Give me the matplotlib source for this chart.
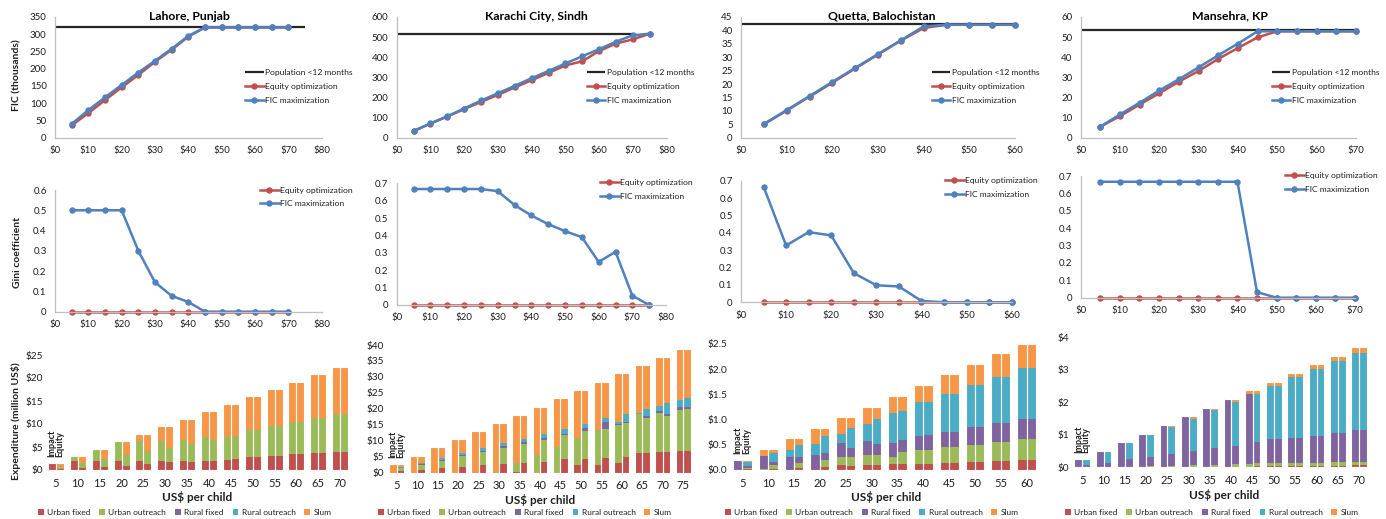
import numpy as np
import matplotlib
matplotlib.use('Agg')
import matplotlib.pyplot as plt
from matplotlib.patches import Patch

plt.rcParams['font.family'] = ['Lato', 'DejaVu Sans']

# ---------------- data ----------------
TITLES = ['Lahore, Punjab', 'Karachi City, Sindh', 'Quetta, Balochistan', 'Mansehra, KP']

COST_LAH = [5, 10, 15, 20, 25, 30, 35, 40, 45, 50, 55, 60, 65, 70]
COST_KAR = [5, 10, 15, 20, 25, 30, 35, 40, 45, 50, 55, 60, 65, 70, 75]
COST_QUE = [5, 10, 15, 20, 25, 30, 35, 40, 45, 50, 55, 60]
COST_MAN = [5, 10, 15, 20, 25, 30, 35, 40, 45, 50, 55, 60, 65, 70]

# population <12 months (thousands) and extent of its line (US$)
POP_LAH, POP_X_LAH = 320, [0, 75]
POP_KAR, POP_X_KAR = 517, [0, 70]
POP_QUE, POP_X_QUE = 42.5, [0, 60]
POP_MAN, POP_X_MAN = 53.4, [0, 70]

# FIC (thousands)
FIC_EQ_LAH = [36, 71, 109, 146, 182, 220, 255, 293, 320, 320, 320, 320, 320, 320]
FIC_MAX_LAH = [40, 80, 117, 153, 189, 223, 258, 295, 320, 320, 320, 320, 320, 320]
FIC_EQ_KAR = [33, 70, 105, 142, 178, 213, 250, 286, 322, 359, 380, 431, 468, 489, 517]
FIC_MAX_KAR = [33, 71, 107, 145, 185, 221, 258, 296, 332, 369, 405, 440, 478, 509, 517]
FIC_EQ_QUE = [5.0, 10.1, 15.3, 20.5, 25.8, 31.0, 36.2, 40.9, 42.1, 42.1, 42.1, 42.1]
FIC_MAX_QUE = [5.1, 10.3, 15.5, 20.8, 26.0, 31.2, 36.3, 41.5, 42.1, 42.1, 42.1, 42.1]
FIC_EQ_MAN = [5.5, 10.7, 16.5, 22.1, 27.9, 33.2, 39.2, 44.6, 49.9, 52.9, 52.9, 52.9, 52.9, 52.9]
FIC_MAX_MAN = [5.5, 11.6, 17.4, 23.5, 29.1, 35.0, 41.0, 46.8, 52.9, 52.9, 52.9, 52.9, 52.9, 52.9]

# Gini coefficient
GINI_EQ_LAH = [0, 0, 0, 0, 0, 0, 0, 0, 0, 0, 0, 0, 0, 0]
GINI_MAX_LAH = [0.5, 0.5, 0.5, 0.5, 0.3, 0.145, 0.078, 0.048, 0, 0, 0, 0, 0, 0]
GINI_EQ_KAR = [0, 0, 0, 0, 0, 0, 0, 0, 0, 0, 0, 0, 0, 0, 0]
GINI_MAX_KAR = [0.667, 0.667, 0.667, 0.667, 0.667, 0.655, 0.575, 0.515, 0.465, 0.425,
                0.39, 0.248, 0.306, 0.054, 0]
GINI_EQ_QUE = [0, 0, 0, 0, 0, 0, 0, 0, 0, 0, 0, 0]
GINI_MAX_QUE = [0.666, 0.327, 0.404, 0.385, 0.168, 0.098, 0.091, 0.008, 0, 0, 0, 0]
GINI_EQ_MAN = [0, 0, 0, 0, 0, 0, 0, 0, 0, 0, 0, 0, 0, 0]
GINI_MAX_MAN = [0.667, 0.667, 0.667, 0.667, 0.667, 0.667, 0.667, 0.667, 0.032, 0, 0, 0, 0, 0]

# Expenditure (million US$) -- Impact (FIC maximization) and Equity bars
COMPONENTS = ['Urban fixed', 'Urban outreach', 'Rural fixed', 'Rural outreach', 'Slum']

LAH_IMP_UF = [1.45, 2.0, 2.0, 2.0, 2.0, 2.0, 2.0, 2.0, 2.2, 2.8, 3.1, 3.4, 3.7, 4.0]
LAH_IMP_UO = [0, 1.05, 2.6, 4.3, 4.3, 4.3, 4.5, 5.1, 4.9, 5.9, 6.45, 7.0, 7.6, 8.2]
LAH_IMP_RF = [0, 0, 0, 0, 0, 0, 0, 0, 0, 0, 0, 0, 0, 0]
LAH_IMP_RO = [0, 0, 0, 0, 0, 0, 0, 0, 0, 0, 0, 0, 0, 0]
LAH_IMP_SL = [0, 0, 0, 0, 1.6, 3.25, 4.6, 5.7, 7.3, 7.3, 8.05, 8.8, 9.6, 10.3]
LAH_EQU_UF = [0.15, 0.35, 0.7, 0.95, 1.2, 1.8, 1.8, 2.0, 2.3, 2.8, 3.1, 3.4, 3.7, 4.0]
LAH_EQU_UO = [0.55, 1.1, 1.6, 2.25, 2.85, 3.05, 3.85, 4.5, 5.1, 5.9, 6.45, 7.0, 7.6, 8.2]
LAH_EQU_RF = [0, 0, 0, 0, 0, 0, 0, 0, 0, 0, 0, 0, 0, 0]
LAH_EQU_RO = [0, 0, 0, 0, 0, 0, 0, 0, 0, 0, 0, 0, 0, 0]
LAH_EQU_SL = [0.75, 1.6, 2.3, 3.1, 3.85, 4.7, 5.45, 6.3, 7.0, 7.3, 8.05, 8.8, 9.6, 10.3]

KAR_IMP_UF = [0, 0, 0, 0, 0, 0, 0.3, 0, 0, 2.5, 2.5, 2.9, 6.15, 6.5, 6.9]
KAR_IMP_UO = [0, 0, 0, 0, 0, 0.3, 2.6, 5.5, 8.15, 8.25, 10.9, 12.05, 12.15, 12.1, 12.7]
KAR_IMP_RF = [0, 0, 0, 0, 0, 0, 0, 0, 0, 0, 0, 0.4, 0.2, 0.7, 0.9]
KAR_IMP_RO = [0, 0, 0, 0, 0, 0, 0, 0, 0, 0, 0, 0.55, 0.2, 1.7, 2.3]
KAR_IMP_SL = [2.6, 5.2, 7.9, 10.4, 12.95, 15.15, 15.2, 15.2, 15.15, 15.15, 15.1, 15.2,
              14.9, 15.3, 15.95]
KAR_EQU_UF = [0.4, 0.8, 1.45, 1.9, 2.4, 2.7, 3.1, 3.45, 4.2, 4.2, 4.7, 4.8, 6.05, 6.4, 6.8]
KAR_EQU_UO = [0.95, 1.6, 2.3, 3.3, 4.1, 5.1, 6.0, 6.9, 7.5, 8.75, 9.0, 10.65, 10.95, 11.45, 13.05]
KAR_EQU_RF = [0.1, 0.2, 0.3, 0.3, 0.4, 0.55, 0.4, 0.4, 0.4, 0.95, 2.1, 0.55, 0.75, 0.65, 0.85]
KAR_EQU_RO = [0.45, 0.5, 0.55, 0.55, 0.8, 0.85, 1.15, 1.35, 1.6, 1.35, 1.4, 2.3, 2.1, 3.4, 2.6]
KAR_EQU_SL = [0.7, 2.1, 3.3, 4.35, 5.25, 6.25, 7.45, 8.6, 9.6, 10.65, 11.3, 12.8, 13.75,
              14.4, 15.45]

QUE_IMP_UF = [0, 0, 0, 0.013, 0.1, 0.093, 0.11, 0.126, 0.145, 0.16, 0.18, 0.2]
QUE_IMP_UO = [0, 0.013, 0, 0, 0.165, 0.207, 0.155, 0.274, 0.305, 0.34, 0.375, 0.41]
QUE_IMP_RF = [0.2, 0.272, 0.265, 0.277, 0.27, 0.275, 0.27, 0.27, 0.31, 0.345, 0.37, 0.395]
QUE_IMP_RO = [0, 0, 0.135, 0.225, 0.18, 0.345, 0.605, 0.67, 0.755, 0.84, 0.925, 1.01]
QUE_IMP_SL = [0, 0.13, 0.23, 0.325, 0.33, 0.335, 0.335, 0.345, 0.39, 0.425, 0.465, 0.485]
QUE_EQU_UF = [0.013, 0.026, 0.046, 0.06, 0.08, 0.106, 0.12, 0.126, 0.145, 0.16, 0.18, 0.2]
QUE_EQU_UO = [0.033, 0.074, 0.099, 0.145, 0.17, 0.194, 0.237, 0.274, 0.305, 0.34, 0.375, 0.41]
QUE_EQU_RF = [0.04, 0.065, 0.105, 0.125, 0.18, 0.21, 0.238, 0.29, 0.31, 0.345, 0.37, 0.395]
QUE_EQU_RO = [0.079, 0.18, 0.25, 0.345, 0.41, 0.495, 0.585, 0.665, 0.755, 0.84, 0.925, 1.01]
QUE_EQU_SL = [0.035, 0.07, 0.13, 0.165, 0.205, 0.25, 0.295, 0.33, 0.39, 0.425, 0.465, 0.485]

MAN_IMP_UF = [0, 0, 0, 0, 0, 0, 0, 0, 0, 0.04, 0.04, 0.05, 0.05, 0.06]
MAN_IMP_UO = [0, 0, 0, 0, 0, 0, 0, 0, 0.11, 0.08, 0.09, 0.095, 0.115, 0.115]
MAN_IMP_RF = [0.245, 0.51, 0.77, 1.035, 1.3, 1.57, 1.835, 2.1, 2.155, 0.75, 0.78, 0.83, 0.89, 0.985]
MAN_IMP_RO = [0, 0, 0, 0, 0, 0, 0, 0, 0, 1.64, 1.86, 2.05, 2.225, 2.37]
MAN_IMP_SL = [0, 0, 0, 0, 0, 0, 0, 0, 0.105, 0.125, 0.12, 0.145, 0.145, 0.16]
MAN_EQU_UF = [0, 0, 0, 0, 0, 0.01, 0.01, 0.02, 0.04, 0.04, 0.04, 0.05, 0.05, 0.06]
MAN_EQU_UO = [0.02, 0.02, 0.02, 0.05, 0.05, 0.06, 0.07, 0.07, 0.08, 0.08, 0.09, 0.095, 0.115, 0.115]
MAN_EQU_RF = [0.05, 0.125, 0.225, 0.28, 0.36, 0.43, 0.505, 0.575, 0.65, 0.75, 0.78, 0.83, 0.89, 0.985]
MAN_EQU_RO = [0.175, 0.335, 0.495, 0.67, 0.84, 1.0, 1.17, 1.345, 1.495, 1.64, 1.86, 2.05, 2.225, 2.37]
MAN_EQU_SL = [0, 0.03, 0.03, 0.035, 0.05, 0.07, 0.08, 0.09, 0.105, 0.125, 0.12, 0.145, 0.145, 0.16]

# ---------------- style ----------------
RED = '#C0504D'
BLUE = '#4F81BD'
COMP_COLORS = ['#C0504D', '#9BBB59', '#8064A2', '#4BACC6', '#F79646']
TXT = '#1F1F1F'
SPINE = '#BFBFBF'
POPC = '#262626'

W, H = 1386, 519
fig = plt.figure(figsize=(W / 100, H / 100), dpi=100)


def add_ax(l, t, r, b):
    return fig.add_axes([l / W, 1 - b / H, (r - l) / W, (b - t) / H])


def fmt_num(v):
    if abs(v) < 1e-9:
        return '0'
    return f'{v:g}'


def style_line_ax(ax, xmax, ymax, ystep):
    ax.set_xlim(0, xmax)
    ax.set_ylim(0, ymax)
    xt = np.arange(0, xmax + 0.01, 10)
    ax.set_xticks(xt)
    ax.set_xticklabels([f'${int(v)}' for v in xt])
    yt = np.arange(0, ymax + ystep * 0.01, ystep)
    ax.set_yticks(yt)
    ax.set_yticklabels([fmt_num(round(v, 3)) for v in yt])
    for s in ['top', 'right']:
        ax.spines[s].set_visible(False)
    for s in ['left', 'bottom']:
        ax.spines[s].set_color(SPINE)
        ax.spines[s].set_linewidth(0.9)
    ax.tick_params(length=0, labelsize=7, colors=TXT, pad=6)
    ax.patch.set_alpha(0)


def legend_at(ax, handles, labels, x, y, rowsp):
    ax.legend(handles, labels, loc='upper left', bbox_to_anchor=(x / W, 1 - y / H),
              bbox_transform=fig.transFigure, frameon=False, fontsize=6.1,
              handlelength=2.2, handletextpad=0.2, labelspacing=rowsp,
              borderpad=0, borderaxespad=0, labelcolor=TXT)


# ---------- top row: FIC ----------
top_specs = [
    (COST_LAH, FIC_EQ_LAH, FIC_MAX_LAH, POP_LAH, POP_X_LAH, (55, 17, 321.7, 137.7), 80, 350, 50, (245, 68.5)),
    (COST_KAR, FIC_EQ_KAR, FIC_MAX_KAR, POP_KAR, POP_X_KAR, (396.7, 17, 666.7, 137.7), 80, 600, 100, (586.7, 68.5)),
    (COST_QUE, FIC_EQ_QUE, FIC_MAX_QUE, POP_QUE, POP_X_QUE, (741, 17, 1015, 137.7), 60, 45, 5, (931.7, 68.5)),
    (COST_MAN, FIC_EQ_MAN, FIC_MAX_MAN, POP_MAN, POP_X_MAN, (1080.7, 17, 1356, 137.7), 70, 60, 10, (1271.7, 68.5)),
]
title_pos = [(189, 16), (536.7, 16.5), (881.7, 15.5), (1230, 15.5)]

for i, (x, eq, mx, pop, popx, box, xmax, ymax, ystep, lpos) in enumerate(top_specs):
    ax = add_ax(*box)
    style_line_ax(ax, xmax, ymax, ystep)
    h0, = ax.plot(popx, [pop, pop], color=POPC, lw=1.6, solid_capstyle='butt')
    h1, = ax.plot(x, eq, color=RED, lw=1.8, marker='o', ms=3.6, clip_on=False)
    h2, = ax.plot(x, mx, color=BLUE, lw=1.8, marker='o', ms=3.6, clip_on=False)
    legend_at(ax, [h0, h1, h2], ['Population <12 months', 'Equity optimization', 'FIC maximization'],
              lpos[0], lpos[1], 0.85)
    fig.text(title_pos[i][0] / W, 1 - title_pos[i][1] / H, TITLES[i], ha='center', va='center',
             fontsize=8.8, fontweight='bold', color='black')

fig.text(17 / W, 1 - 75 / H, 'FIC (thousands)', rotation=90, ha='center', va='center',
         fontsize=7.5, fontweight='bold', color=TXT)

# ---------- middle row: Gini ----------
mid_specs = [
    (COST_LAH, GINI_EQ_LAH, GINI_MAX_LAH, (55, 190, 321.7, 311.7), 80, 0.6, (260, 186.5)),
    (COST_KAR, GINI_EQ_KAR, GINI_MAX_KAR, (396.7, 183.3, 666, 305), 80, 0.7, (600, 179)),
    (COST_QUE, GINI_EQ_QUE, GINI_MAX_QUE, (741, 180.7, 1011.7, 302.3), 60, 0.7, (945, 177)),
    (COST_MAN, GINI_EQ_MAN, GINI_MAX_MAN, (1080.7, 176, 1355, 297.7), 70, 0.7, (1285, 172)),
]
for x, eq, mx, box, xmax, ymax, lpos in mid_specs:
    ax = add_ax(*box)
    style_line_ax(ax, xmax, ymax, 0.1)
    h1, = ax.plot(x, eq, color=RED, lw=1.8, marker='o', ms=3.6, clip_on=False)
    h2, = ax.plot(x, mx, color=BLUE, lw=1.8, marker='o', ms=3.6, clip_on=False)
    legend_at(ax, [h1, h2], ['Equity optimization', 'FIC maximization'], lpos[0], lpos[1], 0.8)

fig.text(17 / W, 1 - 252 / H, 'Gini coefficient', rotation=90, ha='center', va='center',
         fontsize=7.5, fontweight='bold', color=TXT)

# ---------- bottom row: expenditure ----------
bot_specs = [
    (COST_LAH, [LAH_IMP_UF, LAH_IMP_UO, LAH_IMP_RF, LAH_IMP_RO, LAH_IMP_SL],
     [LAH_EQU_UF, LAH_EQU_UO, LAH_EQU_RF, LAH_EQU_RO, LAH_EQU_SL],
     (45.1, 355, 351, 470), 25, 5, '{:.0f}', (38, 512.5), (196.7, 497)),
    (COST_KAR, [KAR_IMP_UF, KAR_IMP_UO, KAR_IMP_RF, KAR_IMP_RO, KAR_IMP_SL],
     [KAR_EQU_UF, KAR_EQU_UO, KAR_EQU_RF, KAR_EQU_RO, KAR_EQU_SL],
     (386.5, 345, 693.5, 472.7), 40, 5, '{:.0f}', (378, 512.3), (540, 500)),
    (COST_QUE, [QUE_IMP_UF, QUE_IMP_UO, QUE_IMP_RF, QUE_IMP_RO, QUE_IMP_SL],
     [QUE_EQU_UF, QUE_EQU_UO, QUE_EQU_RF, QUE_EQU_RO, QUE_EQU_SL],
     (729.4, 344, 1039.6, 470), 2.5, 0.5, '{:.1f}', (725, 512.3), (885.7, 497)),
    (COST_MAN, [MAN_IMP_UF, MAN_IMP_UO, MAN_IMP_RF, MAN_IMP_RO, MAN_IMP_SL],
     [MAN_EQU_UF, MAN_EQU_UO, MAN_EQU_RF, MAN_EQU_RO, MAN_EQU_SL],
     (1071.6, 337.3, 1369.8, 467.3), 4, 1, '{:.0f}', (1065, 512.3), (1224, 495)),
]
BW = 0.365
for cats, imp, equ, box, ymax, ystep, yf, lpos, xlpos in bot_specs:
    ax = add_ax(*box)
    n = len(cats)
    idx = np.arange(n)
    bi = np.zeros(n)
    be = np.zeros(n)
    for comp, col, vi, ve in zip(COMPONENTS, COMP_COLORS, imp, equ):
        vi = np.array(vi, float)
        ve = np.array(ve, float)
        ax.bar(idx - BW / 2, vi, BW, bottom=bi, color=col, linewidth=0)
        ax.bar(idx + BW / 2, ve, BW, bottom=be, color=col, linewidth=0)
        bi += vi
        be += ve
    # white outline around each whole bar
    ax.bar(idx - BW / 2, bi, BW, fill=False, edgecolor='white', linewidth=0.8)
    ax.bar(idx + BW / 2, be, BW, fill=False, edgecolor='white', linewidth=0.8)
    ax.set_xlim(-0.5, n - 0.5)
    ax.set_ylim(0, ymax)
    ax.set_xticks(idx)
    ax.set_xticklabels([str(c) for c in cats])
    yt = np.arange(0, ymax + ystep * 0.01, ystep)
    ax.set_yticks(yt)
    ax.set_yticklabels(['$' + yf.format(v) for v in yt])
    for s in ax.spines.values():
        s.set_visible(False)
    ax.tick_params(axis='x', length=0, labelsize=8, colors=TXT, pad=5.5)
    ax.tick_params(axis='y', length=0, labelsize=7.3, colors=TXT, pad=1.5)
    ax.patch.set_alpha(0)
    top0 = max(bi[0], be[0])
    for dx, lab in [(-BW / 2, 'Impact'), (BW / 2, 'Equity')]:
        ax.annotate(lab, xy=(idx[0] + dx, top0), xytext=(0, 4.5), textcoords='offset points',
                    rotation=90, ha='center', va='bottom', fontsize=6.5, fontweight='bold',
                    color=TXT)
    handles = [Patch(facecolor=c, edgecolor='none') for c in COMP_COLORS]
    ax.legend(handles, COMPONENTS, loc='center left', bbox_to_anchor=(lpos[0] / W, 1 - lpos[1] / H),
              bbox_transform=fig.transFigure, ncol=5, frameon=False, fontsize=6.0,
              handlelength=0.7, handleheight=0.7, handletextpad=0.4, columnspacing=1.05,
              borderpad=0, borderaxespad=0, labelcolor=TXT)
    fig.text(xlpos[0] / W, 1 - xlpos[1] / H, 'US$ per child', ha='center', va='center',
             fontsize=8.5, fontweight='bold', color=TXT)

fig.text(16 / W, 1 - 421 / H, 'Expenditure (million US$)', rotation=90, ha='center', va='center',
         fontsize=7.5, fontweight='bold', color=TXT)

fig.savefig('out.png', dpi=100, facecolor='white')
